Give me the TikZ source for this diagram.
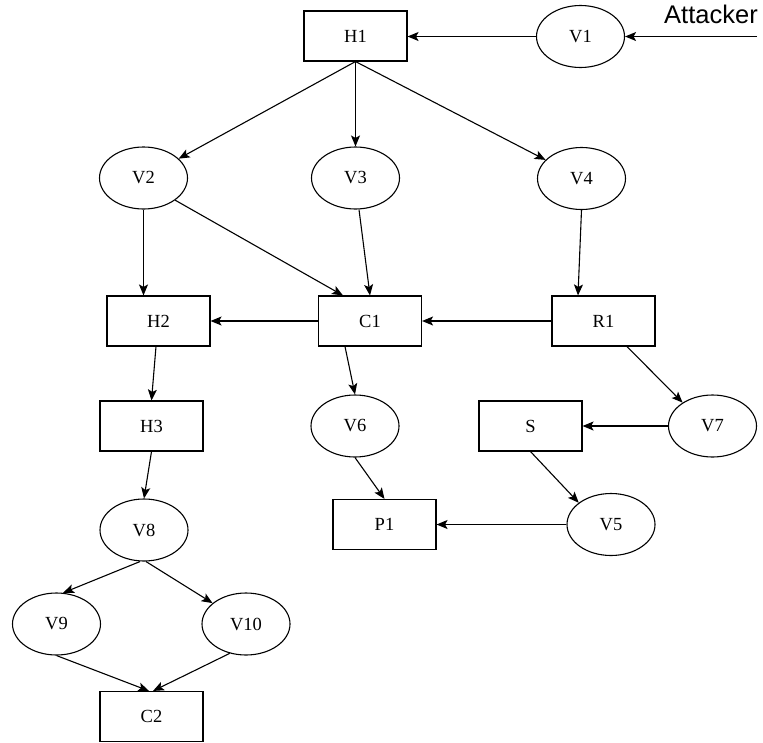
\documentclass[tikz,border=0pt]{standalone}
\usepackage{fontspec}
\setmainfont{Liberation Serif}
\newfontfamily\labelsans{Liberation Sans}
\usetikzlibrary{shapes.geometric,arrows.meta}

\begin{document}
\begin{tikzpicture}[x=1pt,y=-1pt,
  every node/.style={font=\fontsize{18.5}{22}\selectfont, inner sep=0pt},
  boxnode/.style={draw, rectangle, line width=1.1pt, minimum width=103pt, minimum height=50pt},
  vuln/.style={draw, ellipse, line width=1.1pt, minimum width=88pt, minimum height=62pt},
  arr/.style={draw, line width=1.1pt, -{Stealth[length=11pt,width=9pt,inset=2.5pt]}}
]
\useasboundingbox (0,0) rectangle (763,742);

% hosts, components and vulnerabilities
\node[boxnode] (H1) at (355.5,36) {H1};
\node[vuln]    (V1) at (580.5,36.5) {V1};
\node[vuln]    (V2) at (143.5,178) {V2};
\node[vuln]    (V3) at (355.5,178) {V3};
\node[vuln]    (V4) at (581.5,178.5) {V4};
\node[boxnode] (H2) at (158.5,321) {H2};
\node[boxnode] (C1) at (370,321) {C1};
\node[boxnode] (R1) at (603.5,321) {R1};
\node[boxnode] (H3) at (151.5,426) {H3};
\node[vuln]    (V6) at (355,426) {V6};
\node[boxnode] (S)  at (530.5,426) {S};
\node[vuln]    (V7) at (712.5,426) {V7};
\node[vuln]    (V8) at (144,530) {V8};
\node[boxnode] (P1) at (384.5,524.5) {P1};
\node[vuln]    (V5) at (611,524.5) {V5};
\node[vuln]    (V9) at (56.5,624) {V9};
\node[vuln]    (V10) at (246,624) {V10};
\node[boxnode] (C2) at (151.5,716.5) {C2};

% entry point of the attacker
\node[anchor=base, font=\labelsans\fontsize{25.5}{30}\selectfont] (attacker) at (711,23) {Attacker};
\coordinate (entry) at (757,36.5);

% connectors
\draw[arr] (entry) -- (V1.east);
\draw[arr] (V1.west) -- (V1.west -| H1.east);
\draw[arr] (H1.south) -- (V2);
\draw[arr] (H1.south) -- (V3.north);
\draw[arr] (H1.south) -- (V4);
\draw[arr] (V2.south) -- (V2.south |- H2.north);
\draw[arr] (V2.-35) -- ([xshift=-27pt]C1.north);
\draw[arr] ([xshift=3.5pt]V3.south) -- (C1.north);
\draw[arr] (V4.south) -- ([xshift=-25.5pt]R1.north);
\draw[arr] (C1.west) -- (H2.east);
\draw[arr] (R1.west) -- (C1.east);
\draw[arr] ([xshift=23.5pt]R1.south) -- (V7.142);
\draw[arr] (V7.west) -- (S.east);
\draw[arr] ([xshift=-2.5pt]H2.south) -- (H3.north);
\draw[arr] ([xshift=-25pt]C1.south) -- (V6.north);
\draw[arr] (H3.south) -- (V8.north);
\draw[arr] (V6.south) -- (P1.north);
\draw[arr] (S.south) -- (V5.146);
\draw[arr] (V5.west) -- (V5.west -| P1.east);
\draw[arr] ([xshift=-4pt]V8.south) -- (V9.78);
\draw[arr] ([xshift=2pt]V8.south) -- (V10.148);
\draw[arr] (V9.south) -- ([xshift=-2.5pt]C2.north);
\draw[arr] (V10.-119) -- ([xshift=1.5pt]C2.north);
\end{tikzpicture}
\end{document}
